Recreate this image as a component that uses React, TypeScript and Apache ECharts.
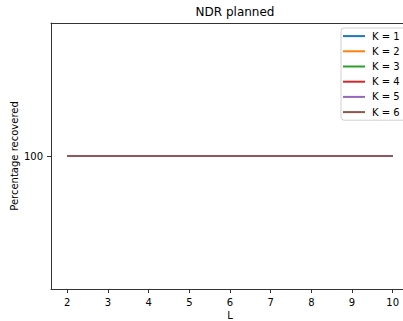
import React, { useEffect, useRef } from "react";
import * as echarts from "echarts";

// Problem size L on the x axis, one line per K
const lValues = [2, 3, 4, 5, 6, 7, 8, 9, 10];
const kLabels = ["K = 1", "K = 2", "K = 3", "K = 4", "K = 5", "K = 6"];
const recoveredK1 = [100, 100, 100, 100, 100, 100, 100, 100, 100];
const recoveredK2 = [100, 100, 100, 100, 100, 100, 100, 100, 100];
const recoveredK3 = [100, 100, 100, 100, 100, 100, 100, 100, 100];
const recoveredK4 = [100, 100, 100, 100, 100, 100, 100, 100, 100];
const recoveredK5 = [100, 100, 100, 100, 100, 100, 100, 100, 100];
const recoveredK6 = [100, 100, 100, 100, 100, 100, 100, 100, 100];
const yTicks = [100];

const palette = ["#1f77b4", "#ff7f0e", "#2ca02c", "#d62728", "#9467bd", "#8c564b"];
const FONT = "DejaVu Sans";
const SPINE = { show: true, lineStyle: { color: "#333", width: 1 } };

export default function App() {
  const ref = useRef<HTMLDivElement>(null);

  useEffect(() => {
    if (!ref.current) return;
    const chart = echarts.init(ref.current, undefined, { renderer: "svg" });
    const allSeries = [recoveredK1, recoveredK2, recoveredK3, recoveredK4, recoveredK5, recoveredK6];

    chart.setOption({
      animation: false,
      color: palette,
      textStyle: { fontFamily: FONT },
      title: {
        text: "NDR planned",
        left: 230,
        textAlign: "center",
        top: 1,
        textStyle: { fontFamily: FONT, fontSize: 12, fontWeight: "normal", color: "#000" },
      },
      legend: {
        orient: "vertical",
        left: 341,
        top: 28,
        padding: [2, 20, 2, 2],
        itemWidth: 22,
        itemHeight: 2,
        itemGap: 3,
        icon: "rect",
        backgroundColor: "#fff",
        borderColor: "#d0d0d0",
        borderWidth: 1,
        borderRadius: 3,
        data: kLabels,
        textStyle: { fontFamily: FONT, fontSize: 10, color: "#000", lineHeight: 12.2, padding: [0, 0, 0, 2] },
      },
      grid: {
        left: 51,
        top: 23,
        width: 358,
        height: 266,
        outerBoundsMode: "none",
        containLabel: false,
        show: false,
      },
      xAxis: [
        {
          type: "value",
          min: 1.6,
          max: 10.4,
          name: "L",
          nameLocation: "middle",
          nameGap: 21,
          nameMoveOverlap: false,
          nameTextStyle: { fontFamily: FONT, fontSize: 10, color: "#000" },
          axisLine: SPINE,
          splitLine: { show: false },
          axisTick: { show: true, length: 4, lineStyle: { color: "#333" }, customValues: lValues },
          axisLabel: {
            fontFamily: FONT,
            fontSize: 10,
            color: "#000",
            margin: 8,
            customValues: lValues,
          },
        },
        {
          // top spine only
          type: "value",
          position: "top",
          min: 1.6,
          max: 10.4,
          axisLine: SPINE,
          axisTick: { show: false },
          axisLabel: { show: false },
          splitLine: { show: false },
        },
      ],
      yAxis: {
        type: "value",
        min: 94,
        max: 106,
        name: "Percentage recovered",
        nameLocation: "middle",
        nameGap: 32,
        nameMoveOverlap: false,
        nameTextStyle: { fontFamily: FONT, fontSize: 10, color: "#000" },
        axisLine: SPINE,
        splitLine: { show: false },
        axisTick: { show: true, length: 4, lineStyle: { color: "#333" }, customValues: yTicks },
        axisLabel: {
          fontFamily: FONT,
          fontSize: 10,
          color: "#000",
          margin: 8,
          customValues: yTicks,
        },
      },
      series: allSeries.map((vals, i) => ({
        name: kLabels[i],
        type: "line",
        xAxisIndex: 0,
        data: lValues.map((l, j) => [l, vals[j]]),
        showSymbol: false,
        lineStyle: { width: 1.5, color: palette[i] },
        itemStyle: { color: palette[i] },
      })),
    });

    return () => chart.dispose();
  }, []);

  return (
    <div
      ref={ref}
      style={{ position: "fixed", left: 0, top: 0, width: 403, height: 321, background: "#fff" }}
    />
  );
}
